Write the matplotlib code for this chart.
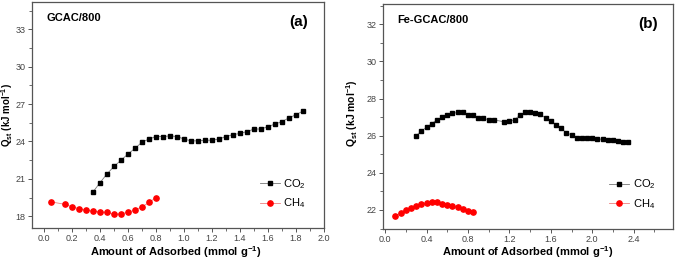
import matplotlib.pyplot as plt
from matplotlib.ticker import MultipleLocator

# (a) GCAC/800
co2_a_x = [0.35, 0.40, 0.45, 0.50, 0.55, 0.60, 0.65, 0.70, 0.75, 0.80, 0.85, 0.90, 0.95, 1.00, 1.05, 1.10,
           1.15, 1.20, 1.25, 1.30, 1.35, 1.40, 1.45, 1.50, 1.55, 1.60, 1.65, 1.70, 1.75, 1.80, 1.85]
co2_a_y = [19.95, 20.7, 21.4, 22.0, 22.5, 23.0, 23.45, 23.95, 24.2, 24.4, 24.4, 24.45, 24.4, 24.2, 24.05, 24.05,
           24.1, 24.1, 24.2, 24.4, 24.55, 24.65, 24.8, 25.0, 25.0, 25.2, 25.4, 25.6, 25.9, 26.15, 26.45]
ch4_a_x = [0.05, 0.15, 0.20, 0.25, 0.30, 0.35, 0.40, 0.45, 0.50, 0.55, 0.60, 0.65, 0.70, 0.75, 0.80]
ch4_a_y = [19.15, 18.95, 18.75, 18.6, 18.5, 18.4, 18.35, 18.3, 18.15, 18.2, 18.3, 18.5, 18.75, 19.1, 19.5]

# (b) Fe-GCAC/800
co2_b_x = [0.30, 0.35, 0.40, 0.45, 0.50, 0.55, 0.60, 0.65, 0.70, 0.75, 0.80, 0.85, 0.90, 0.95, 1.00, 1.05,
           1.15, 1.20, 1.25, 1.30, 1.35, 1.40, 1.45, 1.50, 1.55, 1.60, 1.65, 1.70, 1.75, 1.80, 1.85, 1.90,
           1.95, 2.00, 2.05, 2.10, 2.15, 2.20, 2.25, 2.30, 2.35]
co2_b_y = [26.0, 26.25, 26.45, 26.65, 26.85, 27.0, 27.1, 27.2, 27.25, 27.25, 27.1, 27.1, 26.95, 26.95, 26.85, 26.85,
           26.75, 26.8, 26.85, 27.1, 27.25, 27.3, 27.2, 27.15, 26.95, 26.8, 26.6, 26.4, 26.15, 26.05, 25.9, 25.9,
           25.9, 25.85, 25.83, 25.8, 25.78, 25.75, 25.72, 25.68, 25.65]
ch4_b_x = [0.10, 0.15, 0.20, 0.25, 0.30, 0.35, 0.40, 0.45, 0.50, 0.55, 0.60, 0.65, 0.70, 0.75, 0.80, 0.85]
ch4_b_y = [21.65, 21.85, 22.0, 22.1, 22.2, 22.3, 22.35, 22.45, 22.45, 22.3, 22.25, 22.2, 22.15, 22.05, 21.95, 21.9]

plt.rcParams['font.family'] = ['Liberation Sans', 'DejaVu Sans']
plt.rcParams['mathtext.default'] = 'regular'

fig = plt.figure(figsize=(6.76, 2.61), dpi=100)
ax1 = fig.add_axes([0.0466, 0.1264, 0.4326, 0.8656])
ax2 = fig.add_axes([0.5666, 0.1245, 0.4290, 0.8605])

panels = [
    (ax1, co2_a_x, co2_a_y, ch4_a_x, ch4_a_y, 'GCAC/800', '(a)'),
    (ax2, co2_b_x, co2_b_y, ch4_b_x, ch4_b_y, 'Fe-GCAC/800', '(b)'),
]

for ax, cx, cy, mx, my, name, tag in panels:
    ax.plot(cx, cy, color='#777777', lw=0.6, marker='s', ms=3.2,
            mfc='black', mec='black', label='CO$_2$')
    ax.plot(mx, my, color='#f08080', lw=0.6, marker='o', ms=3.8,
            mfc='red', mec='red', label='CH$_4$')
    for s in ax.spines.values():
        s.set_color('#555555')
        s.set_linewidth(0.9)
    ax.tick_params(which='both', direction='out', colors='#555555', labelsize=6.5,
                   labelcolor='#444444', top=False, right=False, pad=1.5)
    ax.tick_params(which='major', length=3, width=0.7)
    ax.tick_params(which='minor', length=2, width=0.6)
    ax.text(0.05, 0.93, name, transform=ax.transAxes, fontsize=8, fontweight='bold',
            va='center', ha='left')
    ax.text(0.915, 0.91, tag, transform=ax.transAxes, fontsize=11, fontweight='bold',
            va='center', ha='center')
    ax.legend(loc='lower right', frameon=False, fontsize=8, handlelength=1.8,
              handletextpad=0.3, labelspacing=0.5, borderaxespad=1.2)

ax1.set_xlim(-0.09, 2.0)
ax1.set_ylim(17.05, 35.2)
ax1.xaxis.set_major_locator(MultipleLocator(0.2))
ax1.xaxis.set_minor_locator(MultipleLocator(0.1))
ax1.yaxis.set_major_locator(MultipleLocator(3))
ax1.yaxis.set_minor_locator(MultipleLocator(1.5))

ax2.set_xlim(-0.02, 2.78)
ax2.set_ylim(21.0, 33.1)
ax2.xaxis.set_major_locator(MultipleLocator(0.4))
ax2.xaxis.set_minor_locator(MultipleLocator(0.2))
ax2.yaxis.set_major_locator(MultipleLocator(2))
ax2.yaxis.set_minor_locator(MultipleLocator(1))

# axis titles placed in figure coordinates
xlab = 'Amount of Adsorbed (mmol g$^{-1}$)'
ylab = 'Q$_{st}$ (kJ mol$^{-1}$)'
fig.text(0.26, 0.035, xlab, fontsize=8, fontweight='bold', ha='center', va='center')
fig.text(0.781, 0.035, xlab, fontsize=8, fontweight='bold', ha='center', va='center')
fig.text(0.0105, 0.56, ylab, fontsize=7, fontweight='bold', ha='center', va='center', rotation=90)
fig.text(0.521, 0.565, ylab, fontsize=7.5, fontweight='bold', ha='center', va='center', rotation=90)

fig.savefig('out.png', dpi=100)
